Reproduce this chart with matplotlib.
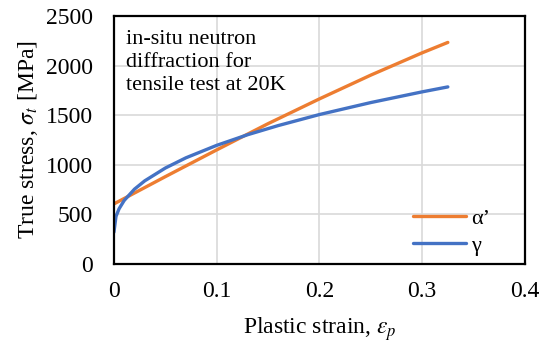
import matplotlib
matplotlib.use("Agg")
import matplotlib.pyplot as plt

plt.rcParams['font.family'] = ['Liberation Serif', 'DejaVu Serif']
plt.rcParams['mathtext.fontset'] = 'stix'

# alpha' (martensite)
strain_a = [0.0, 0.05, 0.1, 0.15, 0.2, 0.25, 0.3, 0.325]
stress_a = [605, 880, 1150, 1415, 1665, 1905, 2130, 2235]

# gamma (austenite)
strain_g = [0.0, 0.002, 0.005, 0.01, 0.02, 0.03, 0.05, 0.07, 0.1, 0.13,
            0.16, 0.2, 0.25, 0.3, 0.325]
stress_g = [320, 479, 556, 640, 754, 838, 967, 1070, 1196, 1303,
            1396, 1507, 1628, 1736, 1786]

fig = plt.figure(figsize=(5.4, 3.44), dpi=100)
ax = fig.add_axes([0.211, 0.233, 0.761, 0.72])

ax.plot(strain_a, stress_a, color='#ED7D31', lw=2.4, label='α’', solid_capstyle='round')
ax.plot(strain_g, stress_g, color='#4472C4', lw=2.4, label='γ', solid_capstyle='round')

ax.set_xlim(0, 0.4)
ax.set_ylim(0, 2500)
ax.set_xticks([0, 0.1, 0.2, 0.3, 0.4])
ax.set_xticklabels(['0', '0.1', '0.2', '0.3', '0.4'])
ax.set_yticks(range(0, 2501, 500))
ax.tick_params(length=0, labelsize=17)
ax.tick_params(axis='x', pad=12)
ax.tick_params(axis='y', pad=15)
ax.grid(color='#d9d9d9', lw=1.2)
ax.set_axisbelow(True)
for s in ax.spines.values():
    s.set_linewidth(1.6)
    s.set_color('black')

ax.set_xlabel(r'Plastic strain, $\varepsilon_p$', fontsize=17, labelpad=10)
ax.set_ylabel(r'True stress, $\sigma_t$ [MPa]', fontsize=17, labelpad=4)

ax.text(0.03, 0.945, 'in-situ neutron\ndiffraction for\ntensile test at 20K',
        transform=ax.transAxes, fontsize=16, va='top', ha='left', linespacing=1.3)

ax.legend(loc='lower right', frameon=False, fontsize=16, handlelength=2.4,
          handletextpad=0.25, labelspacing=0.3, bbox_to_anchor=(0.965, -0.05))

fig.savefig('out.png', dpi=100)
